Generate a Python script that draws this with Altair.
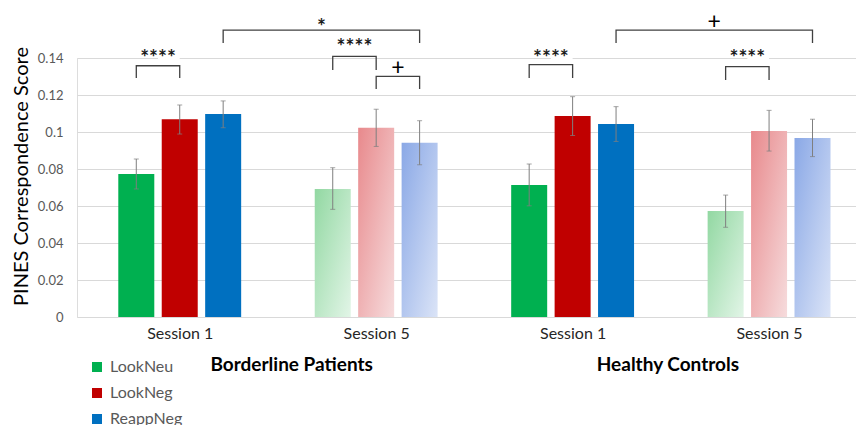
import json
import altair as alt
import pandas as pd

# ---------------- data ----------------
group_keys = ["BP1", "BP5", "HC1", "HC5"]
session_labels = ["Session 1", "Session 5", "Session 1", "Session 5"]
session_num = [1, 5, 1, 5]
conditions = ["LookNeu", "LookNeg", "ReappNeg"]

mean_lookneu = [0.0773, 0.0692, 0.0714, 0.0573]
mean_lookneg = [0.1069, 0.1023, 0.1086, 0.1005]
mean_reappneg = [0.1097, 0.0942, 0.1043, 0.0968]

lo_lookneu = [0.0692, 0.0582, 0.0601, 0.0485]
lo_lookneg = [0.0989, 0.0922, 0.0981, 0.0897]
lo_reappneg = [0.1023, 0.0823, 0.0949, 0.0867]

hi_lookneu = [0.0854, 0.0807, 0.0827, 0.0659]
hi_lookneg = [0.1146, 0.1123, 0.1191, 0.1117]
hi_reappneg = [0.1168, 0.1061, 0.1137, 0.1069]

group_titles = ["Borderline Patients", "Healthy Controls"]
group_title_pos = [0.57, 2.485]

# significance brackets: (group index, condition index) of both ends
br_left_group = [0, 0, 1, 1, 2, 2, 3]
br_left_cond = [0, 2, 0, 1, 0, 2, 0]
br_right_group = [0, 1, 1, 1, 2, 3, 3]
br_right_cond = [1, 2, 1, 2, 1, 2, 1]
br_top = [0.1358, 0.1551, 0.1409, 0.1301, 0.1364, 0.1551, 0.1353]
br_leg = [0.1292, 0.1481, 0.1335, 0.1232, 0.1292, 0.1481, 0.1281]
br_label = ["****", "*", "****", "+", "****", "+", "****"]
br_label_y = [0.1422, 0.1589, 0.1481, 0.1348, 0.1422, 0.1596, 0.1422]

solid_colors = ["#00b050", "#c00000", "#0070c0"]
grad_colors = [("#92d8a2", "#e2f5e7"), ("#e8898c", "#f6dcdd"), ("#8aa8e6", "#dbe4f7")]

# ---------------- layout constants ----------------
W, H = 779, 259
STEP = 44 / 199.0  # offset between bars (group spacing = 1)
FONT = "Lato"

def pos(g, c):
    return g + (c - 1) * STEP

means = [mean_lookneu, mean_lookneg, mean_reappneg]
los = [lo_lookneu, lo_lookneg, lo_reappneg]
his = [hi_lookneu, hi_lookneg, hi_reappneg]

rows = []
for ci, cond in enumerate(conditions):
    for gi, key in enumerate(group_keys):
        rows.append(dict(cond=cond, group=key, session=session_num[gi],
                         pos=pos(gi, ci), y=means[ci][gi],
                         lo=los[ci][gi], hi=his[ci][gi]))
bars = pd.DataFrame(rows)
err = bars.assign(y=bars["lo"], y2=bars["hi"])
caps = pd.concat([bars.assign(y=bars["lo"]), bars.assign(y=bars["hi"])])

br_pts = []
br_lab = []
for i in range(len(br_label)):
    xl = pos(br_left_group[i], br_left_cond[i])
    xr = pos(br_right_group[i], br_right_cond[i])
    for k, (xx, yy) in enumerate([(xl, br_leg[i]), (xl, br_top[i]),
                                  (xr, br_top[i]), (xr, br_leg[i])]):
        br_pts.append(dict(b=i, k=k, pos=xx, y=yy))
    br_lab.append(dict(b=i, pos=(xl + xr) / 2, xl=xl, xr=xr,
                       y=br_label_y[i], label=br_label[i]))
br_pts = pd.DataFrame(br_pts)
br_lab = pd.DataFrame(br_lab)

gt = pd.DataFrame(dict(pos=group_title_pos, label=group_titles))

# ---------------- encodings ----------------
x_scale = alt.Scale(domain=[-99 / 199.0, (W - 99) / 199.0], zero=False, nice=False)
label_expr = json.dumps(session_labels) + "[round(datum.value)]"
x_axis = alt.Axis(values=[0, 1, 2, 3], labelExpr=label_expr, grid=False, domain=False,
                  ticks=False, labelFontSize=16, labelColor="#262626", labelFont=FONT,
                  labelPadding=8)
X = alt.X("pos:Q", scale=x_scale, axis=x_axis, title=None)

y_scale = alt.Scale(domain=[0, 0.14], nice=False, zero=True)
y_axis = alt.Axis(values=[0, 0.02, 0.04, 0.06, 0.08, 0.1, 0.12, 0.14], format=".2~f",
                  grid=True, gridColor="#d9d9d9", gridWidth=1, domain=False, ticks=False,
                  labelFontSize=13, labelColor="#595959", labelFont=FONT, labelPadding=14,
                  title="PINES Correspondence Score", titleFontSize=20, titleFont=FONT,
                  titleFontWeight="normal", titleColor="#000000",
                  titleAngle=270, titleX=-56, titleY=118, titleAlign="center",
                  titleBaseline="middle")
Y = alt.Y("y:Q", scale=y_scale, axis=y_axis)

# ---------------- layers ----------------
masks = alt.Chart(br_lab).mark_rule(color="white", strokeWidth=12, strokeCap="butt").encode(
    x=X, x2="xr:Q", y=Y)

s1 = alt.Chart(bars).transform_filter("datum.session == 1").mark_bar(
    orient="vertical", width=36).encode(
    x=X, y=Y,
    color=alt.Color("cond:N", scale=alt.Scale(domain=conditions, range=solid_colors),
                    legend=alt.Legend(orient="none", legendX=12, legendY=301, title=None,
                                      symbolType="square", symbolSize=100,
                                      symbolStrokeWidth=0, labelFontSize=16,
                                      labelColor="#595959", labelFont=FONT,
                                      rowPadding=10, padding=0, labelOffset=5)))

s5_layers = []
for ci, cond in enumerate(conditions):
    c0, c1 = grad_colors[ci]
    grad = alt.LinearGradient(gradient="linear",
                              stops=[alt.GradientStop(color=c0, offset=0),
                                     alt.GradientStop(color=c1, offset=1)],
                              x1=0, y1=0, x2=1, y2=1)
    s5_layers.append(
        alt.Chart(bars).transform_filter(
            f"datum.session == 5 && datum.cond == '{cond}'").mark_bar(
            orient="vertical", width=36, color=grad).encode(x=X, y=Y))

err_rule = alt.Chart(err).mark_rule(color="#7f7f7f", strokeWidth=1).encode(
    x=X, y=Y, y2="y2:Q")
err_caps = alt.Chart(caps).mark_tick(color="#7f7f7f", orient="horizontal", size=5,
                                     thickness=1).encode(x=X, y=Y)

brackets = alt.Chart(br_pts).mark_line(color="#404040", strokeWidth=1.3).encode(
    x=X, y=Y, detail="b:N", order="k:Q")

stars = alt.Chart(br_lab).transform_filter("datum.label != '+'").mark_text(
    font=FONT, fontSize=21, fontWeight="bold", color="#1a1a1a", baseline="middle",
    dy=5).encode(x=X, y=Y, text="label:N")
plus = alt.Chart(br_lab).transform_filter("datum.label == '+'").mark_text(
    font=FONT, fontSize=23, color="#000000", baseline="middle").encode(
    x=X, y=Y, text="label:N")

gtitles = alt.Chart(gt).mark_text(font=FONT, fontSize=19, fontWeight="bold",
                                  color="#000000", baseline="middle").encode(
    x=X, y=alt.value(H + 48), text="label:N")

chart = alt.layer(masks, s1, *s5_layers, err_rule, err_caps, brackets, stars, plus,
                  gtitles).properties(
    width=W, height=H,
    autosize=alt.AutoSizeParams(type="none"),
    padding={"left": 69, "top": 50, "right": 0, "bottom": 108},
).configure_view(stroke=None).configure(background="white")

chart.save("out.html", embed_options={"renderer": "svg", "actions": False})
